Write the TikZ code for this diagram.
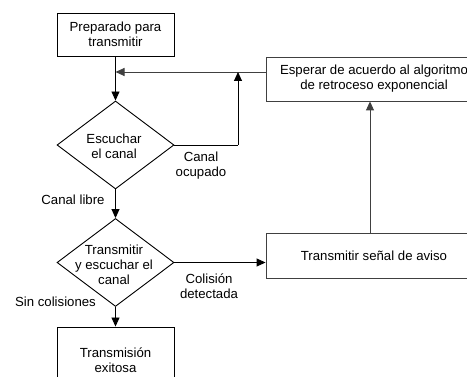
\documentclass[tikz,border=0pt]{standalone}
\usepackage{fontspec}
\setmainfont{Liberation Sans}
\usetikzlibrary{shapes.geometric,arrows.meta}
\begin{document}
\begin{tikzpicture}[x=1pt,y=-1pt,
  every node/.style={font=\fontsize{13.2}{15}\selectfont, align=center, inner sep=0pt},
  box/.style={draw=black, line width=0.9pt, minimum width=117pt, minimum height=43pt},
  gbox/.style={draw=black!75, line width=0.9pt, minimum width=216pt, minimum height=44pt},
  dia/.style={draw=black, line width=0.9pt, diamond, minimum width=117pt, minimum height=88pt},
  conn/.style={draw=black, line width=0.9pt},
  gconn/.style={draw=black!75, line width=0.9pt},
  arr/.style={-{Triangle[length=9pt,width=8pt]}},
  lbl/.style={text=black}
]
\useasboundingbox (0,0) rectangle (467,377);
\node[box] (prep) at (115.5,34.5) {Preparado para\\transmitir};
\node[dia] (esc) at (115.5,145) {};
\node[lbl] (esct) at (114,146.5) {Escuchar\\el canal};
\node[dia] (trans) at (115.5,262.5) {};
\node[lbl] (transt) at (114,264.5) {Transmitir\\y escuchar el\\canal};
\node[box, minimum height=66pt] (exito) at (115.5,360) {Transmisión\\exitosa};
\node[gbox] (esperar) at (374,79) {Esperar de acuerdo al algoritmo\\de retroceso exponencial};
\node[gbox, minimum height=45pt] (aviso) at (374,255.5) {Transmitir señal de aviso};

\coordinate (j1) at (115.5,72);
\coordinate (ein) at (266,72);
\coordinate (c1) at (238,145);
\coordinate (c2) at (238,72);
\coordinate (vx) at (370,0);

\draw[conn] (prep.south) -- (j1);
\draw[conn,arr] (j1) -- (esc.north);
\draw[gconn,arr] (ein) -- (j1);
\draw[conn] (esc.east) -- (c1);
\draw[conn,arr] (c1) -- (c2);
\draw[conn,arr] (esc.south) -- (trans.north);
\draw[conn,arr] (trans.east) -- (trans.east -| aviso.west);
\draw[gconn,arr] (aviso.north -| vx) -- (esperar.south -| vx);
\draw[conn,arr] (trans.south) -- (exito.north);

\node[lbl] (ocup) at (201,165.5) {Canal\\ocupado};
\node[lbl] (libre) at (73,200) {Canal libre};
\node[lbl] (colis) at (209,286) {Colisión\\detectada};
\node[lbl] (sinc) at (55.5,302) {Sin colisiones};
\end{tikzpicture}
\end{document}
